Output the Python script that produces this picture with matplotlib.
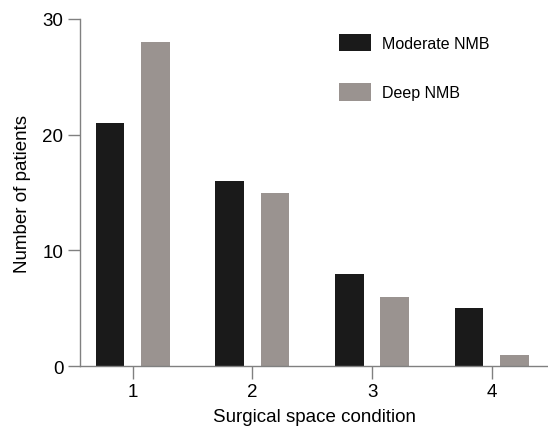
import matplotlib.pyplot as plt
import numpy as np

plt.rcParams['font.family'] = ['Liberation Sans', 'DejaVu Sans']

# data
conditions = [1, 2, 3, 4]
moderate = [21, 16, 8, 5]
deep = [28, 15, 6, 1]

x = np.array(conditions)
w = 0.24

fig = plt.figure(figsize=(5.48, 4.31), dpi=100)
ax = fig.add_axes([0.146, 0.148, 0.854, 0.806])

ax.bar(x - 0.19, moderate, w, color='#1a1a1a', label='Moderate NMB')
ax.bar(x + 0.19, deep, w, color='#9a9390', label='Deep NMB')

ax.set_xlim(0.56, 4.47)
ax.set_ylim(0, 30)
ax.set_xticks(conditions)
ax.set_yticks([0, 10, 20, 30])

for s in ['top', 'right']:
    ax.spines[s].set_visible(False)
for s in ['left', 'bottom']:
    ax.spines[s].set_color('#808080')
    ax.spines[s].set_linewidth(1.0)

ax.tick_params(axis='both', length=9, width=1.0, color='#808080', labelsize=13.5, pad=3)
ax.set_xlabel('Surgical space condition', fontsize=13.5, labelpad=6)
ax.set_ylabel('Number of patients', fontsize=13.5, labelpad=8)

ax.legend(loc='upper left', bbox_to_anchor=(0.522, 0.998), frameon=False, fontsize=11.5,
          handlelength=2.0, handleheight=1.3, labelspacing=2.0, handletextpad=0.7)

plt.savefig('out.png', dpi=100)
